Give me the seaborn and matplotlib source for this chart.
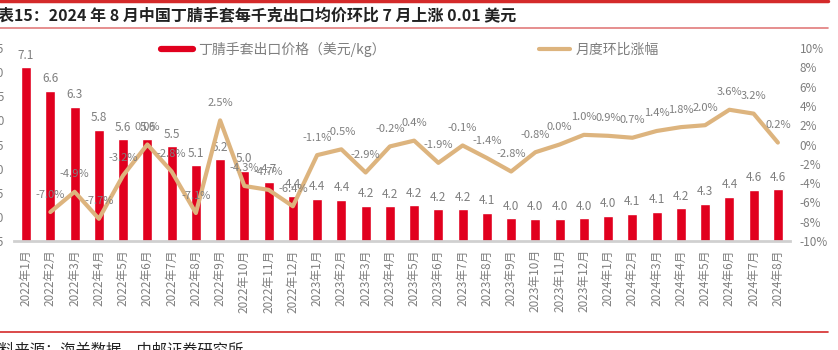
import numpy as np
import pandas as pd
import matplotlib
matplotlib.use("Agg")
import matplotlib.pyplot as plt
import seaborn as sns
from matplotlib.lines import Line2D

# --- Data ---
months = [
    "2022年1月", "2022年2月", "2022年3月", "2022年4月", "2022年5月", "2022年6月",
    "2022年7月", "2022年8月", "2022年9月", "2022年10月", "2022年11月", "2022年12月",
    "2023年1月", "2023年2月", "2023年3月", "2023年4月", "2023年5月", "2023年6月",
    "2023年7月", "2023年8月", "2023年9月", "2023年10月", "2023年11月", "2023年12月",
    "2024年1月", "2024年2月", "2024年3月", "2024年4月", "2024年5月", "2024年6月",
    "2024年7月", "2024年8月",
]
# export price, USD/kg
prices = [
    7.10, 6.61, 6.28, 5.80, 5.61, 5.61, 5.46, 5.07, 5.19, 4.96, 4.73, 4.43,
    4.37, 4.36, 4.23, 4.22, 4.24, 4.16, 4.16, 4.09, 3.97, 3.96, 3.96, 3.97,
    4.02, 4.06, 4.10, 4.18, 4.27, 4.42, 4.56, 4.57,
]
# month-on-month change (%), starting from 2022-02
mom = [
    -7.0, -4.9, -7.7, -3.2, 0.0, -2.8, -7.1, 2.5, -4.3, -4.7, -6.4,
    -1.1, -0.5, -2.9, -0.2, 0.4, -1.9, -0.1, -1.4, -2.8, -0.8, 0.0, 1.0,
    0.9, 0.7, 1.4, 1.8, 2.0, 3.6, 3.2, 0.2,
]

TITLE = "表15：2024 年 8 月中国丁腈手套每千克出口均价环比 7 月上涨 0.01 美元"
SOURCE = "资料来源：海关数据，中邮证券研究所"
BAR_LABEL = "丁腈手套出口价格（美元/kg）"
LINE_LABEL = "月度环比涨幅"

RED = "#E1001E"
TAN = "#DDB47E"
GRAY = "#7F7F7F"
FRAME_RED = "#D42A2A"

sns.set_theme(style="white")
plt.rcParams["font.family"] = ["Noto Sans CJK SC", "DejaVu Sans"]

W, H = 838, 350
fig = plt.figure(figsize=(W / 100, H / 100), dpi=100)
ax = fig.add_axes([14 / W, 109 / H, 776 / W, 193 / H])

# --- Bars ---
sns.barplot(x=months, y=prices, color=RED, saturation=1, width=0.42, ax=ax)
ax.set_xlim(-0.5, len(months) - 0.5)
ax.set_ylim(3.5, 7.5)
ax.set_yticks(np.arange(3.5, 7.51, 0.5))
ax.set_yticklabels([f"{t:.1f}" for t in np.arange(3.5, 7.51, 0.5)])
ax.bar_label(ax.containers[0], fmt="%.1f", padding=4, fontsize=8.5, color=GRAY)
ax.set_xlabel("")
ax.set_ylabel("")
ax.tick_params(axis="x", rotation=90, labelsize=8.5, labelcolor=GRAY, length=0, pad=6)
ax.tick_params(axis="y", labelsize=8.5, labelcolor=GRAY, length=0, pad=7)
for s in ["left", "right", "top"]:
    ax.spines[s].set_visible(False)
ax.spines["bottom"].set_color("#D0D0D0")
ax.spines["bottom"].set_linewidth(2)

# --- Line (secondary axis) ---
ax2 = ax.twinx()
line_df = pd.DataFrame({"pos": np.arange(1, len(months)), "mom": mom})
sns.lineplot(data=line_df, x="pos", y="mom", color=TAN, linewidth=3, ax=ax2)
ax2.set_ylim(-10, 10)
ax2.set_yticks(np.arange(-10, 11, 2))
ax2.set_yticklabels([f"{t}%" for t in np.arange(-10, 11, 2)])
ax2.tick_params(axis="y", labelsize=8.5, labelcolor=GRAY, length=0, pad=7)
ax2.set_ylabel("")
ax2.set_xlabel("")
for s in ax2.spines.values():
    s.set_visible(False)
for p, v in zip(line_df["pos"], line_df["mom"]):
    ax2.annotate(f"{v:.1f}%", (p, v), xytext=(0, 9), textcoords="offset points",
                 ha="center", va="bottom", fontsize=8, color=GRAY)

# --- Legend ---
handles = [Line2D([], [], color=RED, lw=4.5), Line2D([], [], color=TAN, lw=3)]
fig.legend(handles, [BAR_LABEL, LINE_LABEL], loc="center", bbox_to_anchor=(410 / W, 1 - 49 / H),
           ncol=2, frameon=False, fontsize=10, handlelength=2.3, handletextpad=0.4,
           columnspacing=11, labelcolor=GRAY)

# --- Frame: title, rules, source ---
fig.text(-2 / W, 1 - 15 / H, TITLE, fontsize=11.5, fontweight="bold", color="#222222",
         ha="left", va="center")
fig.add_artist(Line2D([0, 828 / W], [1 - 1 / H] * 2, color=FRAME_RED, lw=2.5))
fig.add_artist(Line2D([0, 828 / W], [1 - 28 / H] * 2, color="#E27C7C", lw=1.2))
fig.add_artist(Line2D([0, 828 / W], [1 - 332 / H] * 2, color=FRAME_RED, lw=1.2))
fig.text(-16 / W, 1 - 350 / H, SOURCE, fontsize=11, color="#222222", ha="left", va="center")

fig.savefig("out.png", dpi=100)
